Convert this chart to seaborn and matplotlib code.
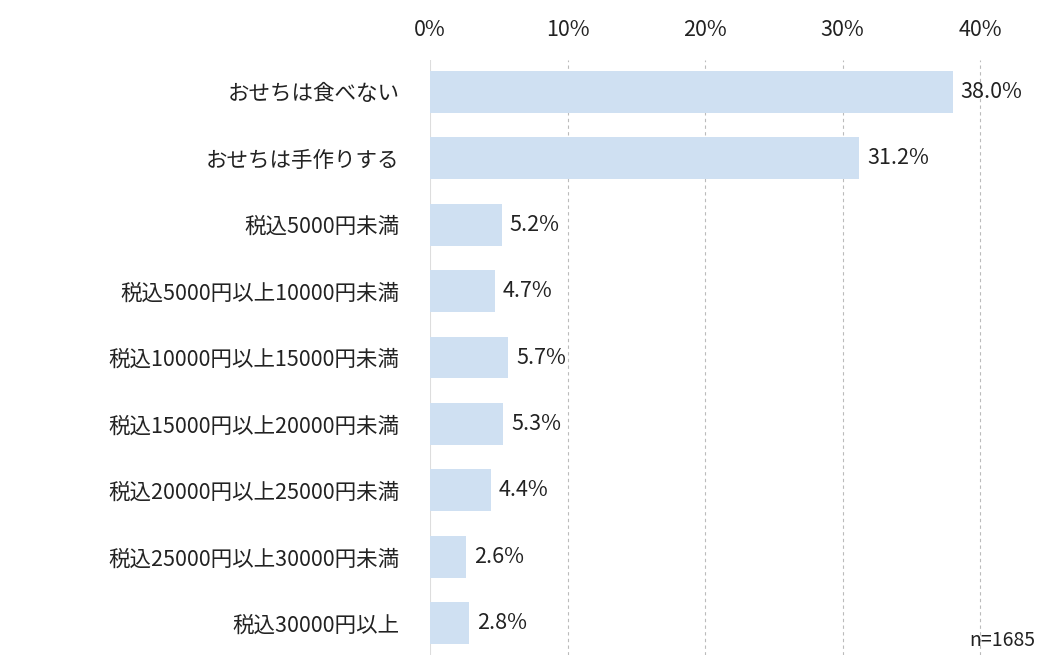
import matplotlib
matplotlib.use("Agg")
import matplotlib.pyplot as plt
import seaborn as sns
import pandas as pd

plt.rcParams["font.family"] = "Noto Sans CJK JP"

categories = ["おせちは食べない", "おせちは手作りする", "税込5000円未満",
              "税込5000円以上10000円未満", "税込10000円以上15000円未満",
              "税込15000円以上20000円未満", "税込20000円以上25000円未満",
              "税込25000円以上30000円未満", "税込30000円以上"]
values = [38.0, 31.2, 5.2, 4.7, 5.7, 5.3, 4.4, 2.6, 2.8]
ticks = [0, 10, 20, 30, 40]

df = pd.DataFrame({"cat": categories, "val": values})

fig = plt.figure(figsize=(10.45, 6.65), dpi=100)
ax = fig.add_axes([430 / 1045, 10 / 665, 605 / 1045, 595 / 665])
sns.barplot(data=df, x="val", y="cat", color="#cfe0f2", saturation=1, width=0.63, ax=ax)

ax.set_xlim(0, 44)
ax.set_ylim(8.48, -0.48)
ax.set_xticks(ticks)
ax.set_xticklabels([f"{t}%" for t in ticks], fontsize=15.5, color="#222222")
ax.xaxis.tick_top()
ax.tick_params(axis="x", length=0, pad=14)
ax.tick_params(axis="y", length=0, pad=22, labelsize=15.5, labelcolor="#222222")
ax.set_xlabel("")
ax.set_ylabel("")
for t in ticks[1:]:
    ax.axvline(t, color="#bbbbbb", ls=(0, (3, 3)), lw=0.8, zorder=0)
ax.axvline(0, color="#dddddd", lw=0.8, zorder=0)
for s in ax.spines.values():
    s.set_visible(False)

for i, v in enumerate(values):
    ax.text(v + 0.6, i, f"{v:.1f}%", va="center", ha="left", fontsize=15.5, color="#222222")

fig.text(1035 / 1045, 1 - 640 / 665, "n=1685", ha="right", va="center", fontsize=14, color="#222222")

fig.savefig("out.png", dpi=100)
